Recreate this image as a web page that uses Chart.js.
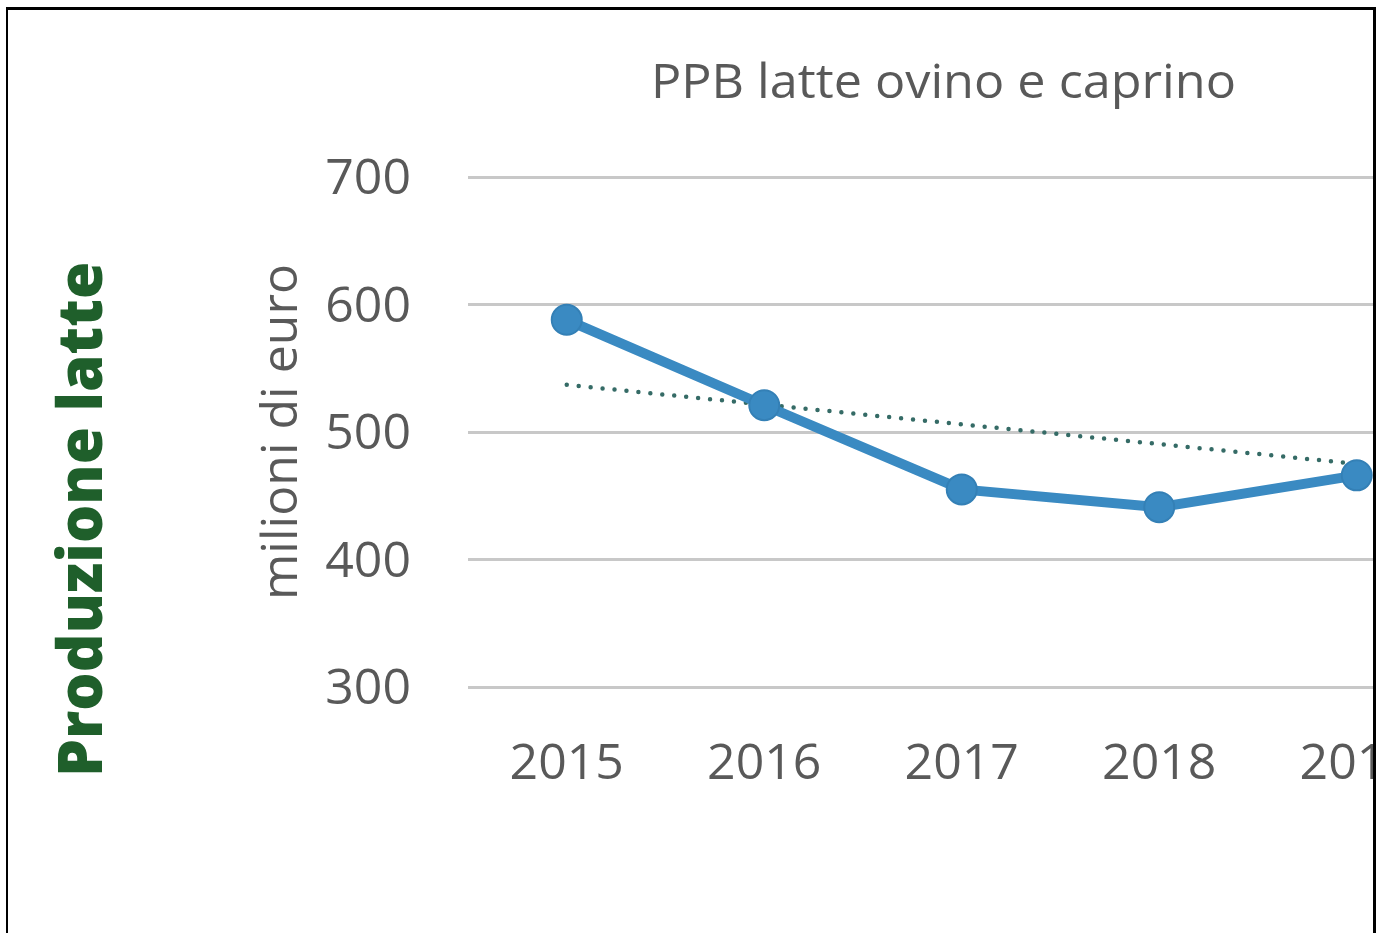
<!DOCTYPE html>
<html lang="it">
<head>
<meta charset="utf-8">
<title>PPB latte ovino e caprino</title>
<script src="https://cdn.jsdelivr.net/npm/chart.js@4/dist/chart.umd.min.js"></script>
<style>
  html, body { margin: 0; padding: 0; background: #fff; }
  body { width: 1384px; height: 933px; position: relative; overflow: hidden; }
  #clip { position: absolute; left: 0; top: 0; width: 1373px; height: 933px; overflow: hidden; }
  #wrap { position: absolute; left: 0; top: 0; width: 1500px; height: 807px; }
  #frame {
    position: absolute; left: 6px; top: 7px; width: 1370px; height: 960px;
    box-sizing: border-box; border-top: 3px solid #000; border-left: 2px solid #000;
    border-right: 3px solid #000; pointer-events: none;
  }
  #titolo {
    position: absolute; left: 651px; top: 56px; margin: 0;
    font: 400 48px/1 "Open Sans", sans-serif; color: #595959;
    white-space: nowrap; transform-origin: 0 0;
  }
  #sezione {
    position: absolute; left: 0; top: 0; margin: 0;
    font: 800 62px/1 "Open Sans", sans-serif; color: #1f5f2b;
    white-space: nowrap; transform-origin: 0 0;
  }
</style>
</head>
<body>
<div id="clip">
  <div id="wrap"><canvas id="grafico"></canvas></div>
</div>
<div id="titolo">PPB latte ovino e caprino</div>
<div id="sezione">Produzione latte</div>
<div id="frame"></div>
<script>
// anni e valori (milioni di euro)
const anni = ['2015', '2016', '2017', '2018', '2019'];
const ppb = [588, 521, 455, 441, 466];
// linea di tendenza: estremi
const tendenzaAnni = ['2015', '2019'];
const tendenzaValori = [537, 475];
const yTicks = [300, 400, 500, 600, 700];

const grigio = '#595959';
const blu = '#3a8ac2';

new Chart(document.getElementById('grafico'), {
  type: 'line',
  data: {
    labels: anni,
    datasets: [{
      label: 'PPB',
      data: ppb,
      borderColor: blu,
      backgroundColor: blu,
      borderWidth: 10,
      tension: 0,
      pointRadius: 15,
      pointBackgroundColor: blu,
      pointBorderColor: '#3480b6',
      pointBorderWidth: 2
    }, {
      label: 'Tendenza',
      data: tendenzaAnni.map((a, i) => ({ x: a, y: tendenzaValori[i] })),
      borderColor: '#356b66',
      borderWidth: 4.5,
      borderDash: [0, 12],
      borderCapStyle: 'round',
      pointRadius: 0,
      fill: false
    }]
  },
  options: {
    responsive: true,
    maintainAspectRatio: false,
    animation: false,
    layout: { padding: { left: 0, top: 177, right: 44.5, bottom: 0 } },
    plugins: {
      legend: { display: false },
      tooltip: { enabled: false }
    },
    scales: {
      x: {
        offset: true,
        grid: { display: false, drawTicks: false },
        border: { display: false },
        ticks: { color: grigio, font: { family: 'Open Sans', size: 50 }, padding: 48, maxRotation: 0 },
        afterFit: (s) => { s.height = 120; }
      },
      y: {
        min: 300,
        max: 700,
        afterBuildTicks: (s) => { s.ticks = yTicks.map(v => ({ value: v })); },
        grid: { color: '#c8c8c8', lineWidth: 3, drawTicks: false },
        border: { display: false },
        ticks: { color: grigio, font: { family: 'Open Sans', size: 50 }, padding: 57, labelOffset: 3 },
        title: {
          display: true,
          text: 'milioni di euro',
          color: grigio,
          font: { family: 'Open Sans', size: 50 },
          padding: { top: 253, bottom: 0 }
        },
        afterFit: (s) => { s.width = 468; }
      }
    }
  }
});

// testi fuori dal grafico: larghezza adattata
document.fonts.ready.then(() => {
  const t = document.getElementById('titolo');
  t.style.transform = 'scaleX(' + (585 / t.offsetWidth) + ')';
  const s = document.getElementById('sezione');
  const k = 515 / s.offsetWidth;
  s.style.transform = 'translate(' + (102 - 0.888 * 62) + 'px, 777px) rotate(-90deg) scaleX(' + k + ')';
});
</script>
</body>
</html>
